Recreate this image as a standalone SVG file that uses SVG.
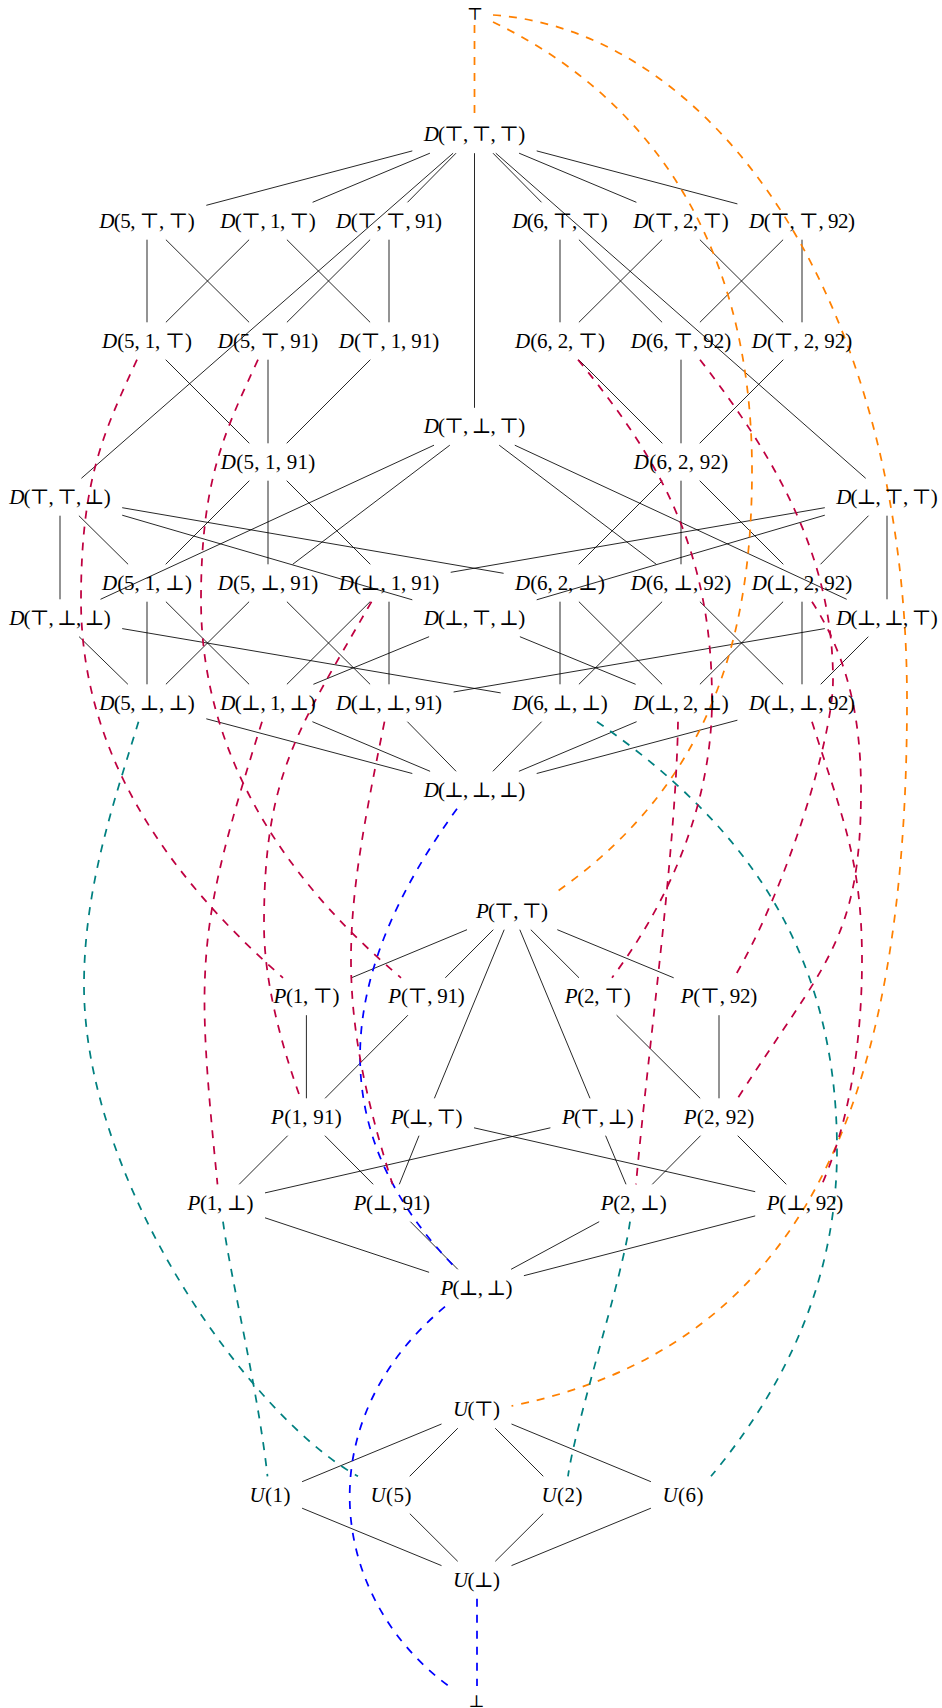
<svg xmlns="http://www.w3.org/2000/svg" width="942" height="1708" viewBox="0 0 942 1708">
<style>
.l{font-family:"Liberation Serif","DejaVu Serif",serif;font-size:21px;text-anchor:middle;fill:#000}
.s{font-family:"DejaVu Serif","Liberation Serif",serif;font-size:17px;text-anchor:middle;fill:#000}
.i{font-style:italic}
.e line{stroke:#000;stroke-width:0.85;fill:none}
.d path{fill:none;stroke-width:1.75;stroke-dasharray:8 8}
.or{stroke:#FF8000}.bl{stroke:#0000FF}.te{stroke:#008080}.pu{stroke:#BF0040}
</style>
<rect width="942" height="1708" fill="#fff"/>
<g id="connectors">
<g class="e">
<line x1="412.3" y1="150.9" x2="206.3" y2="205.3"/>
<line x1="429.9" y1="153.2" x2="312.6" y2="202.3"/>
<line x1="456" y1="153.2" x2="407.5" y2="202.3"/>
<line x1="453.1" y1="153.2" x2="81.4" y2="478.3"/>
<line x1="474.5" y1="153.2" x2="474.5" y2="407.8"/>
<line x1="493" y1="153.2" x2="541.5" y2="202.3"/>
<line x1="495.8" y1="153.2" x2="865.7" y2="478.3"/>
<line x1="519.1" y1="153.2" x2="636.4" y2="202.3"/>
<line x1="536.7" y1="150.9" x2="737.4" y2="203.9"/>
<line x1="147" y1="239.7" x2="147" y2="322.3"/>
<line x1="165.9" y1="239.7" x2="249.1" y2="322.3"/>
<line x1="249.1" y1="239.7" x2="165.9" y2="322.3"/>
<line x1="286.9" y1="239.7" x2="370.1" y2="322.3"/>
<line x1="370.1" y1="239.7" x2="286.9" y2="322.3"/>
<line x1="389" y1="239.7" x2="389" y2="322.3"/>
<line x1="560" y1="239.7" x2="560" y2="322.3"/>
<line x1="578.9" y1="239.7" x2="662.1" y2="322.3"/>
<line x1="662.1" y1="239.7" x2="578.9" y2="322.3"/>
<line x1="699.9" y1="239.7" x2="783.1" y2="322.3"/>
<line x1="783.1" y1="239.7" x2="699.9" y2="322.3"/>
<line x1="802" y1="239.7" x2="802" y2="322.3"/>
<line x1="165.7" y1="359.7" x2="249.3" y2="443.3"/>
<line x1="268" y1="359.7" x2="268" y2="443.3"/>
<line x1="370.3" y1="359.7" x2="286.7" y2="443.3"/>
<line x1="578.7" y1="359.7" x2="662.3" y2="443.3"/>
<line x1="681" y1="359.7" x2="681" y2="443.3"/>
<line x1="783.3" y1="359.7" x2="699.7" y2="443.3"/>
<line x1="434" y1="445.2" x2="100.5" y2="599.3"/>
<line x1="449.8" y1="445.2" x2="292.7" y2="564.3"/>
<line x1="499.2" y1="445.2" x2="656.3" y2="564.3"/>
<line x1="514.8" y1="445.2" x2="846.7" y2="599.3"/>
<line x1="249.3" y1="480.7" x2="165.7" y2="564.3"/>
<line x1="268" y1="480.7" x2="268" y2="564.3"/>
<line x1="286.7" y1="480.7" x2="370.3" y2="564.3"/>
<line x1="662.3" y1="480.7" x2="578.7" y2="564.3"/>
<line x1="681" y1="480.7" x2="681" y2="564.3"/>
<line x1="699.7" y1="480.7" x2="783.3" y2="564.3"/>
<line x1="60" y1="515.7" x2="60" y2="599.3"/>
<line x1="78.9" y1="515.7" x2="128.1" y2="564.3"/>
<line x1="122.2" y1="507.7" x2="503.6" y2="573.3"/>
<line x1="122.2" y1="515.2" x2="412.3" y2="599.8"/>
<line x1="824.8" y1="507.7" x2="450.7" y2="572.3"/>
<line x1="824.8" y1="515.2" x2="536.7" y2="599.8"/>
<line x1="868.5" y1="515.7" x2="820.5" y2="564.3"/>
<line x1="887" y1="515.7" x2="887" y2="599.3"/>
<line x1="147" y1="601.7" x2="147" y2="684.3"/>
<line x1="165.9" y1="601.7" x2="249.1" y2="684.3"/>
<line x1="249.1" y1="601.7" x2="165.9" y2="684.3"/>
<line x1="286.9" y1="601.7" x2="370.1" y2="684.3"/>
<line x1="370.1" y1="601.7" x2="286.9" y2="684.3"/>
<line x1="389" y1="601.7" x2="389" y2="684.3"/>
<line x1="560" y1="601.7" x2="560" y2="684.3"/>
<line x1="578.9" y1="601.7" x2="662.1" y2="684.3"/>
<line x1="662.1" y1="601.7" x2="578.9" y2="684.3"/>
<line x1="699.9" y1="601.7" x2="783.1" y2="684.3"/>
<line x1="783.1" y1="601.7" x2="699.9" y2="684.3"/>
<line x1="802" y1="601.7" x2="802" y2="684.3"/>
<line x1="79.1" y1="636.7" x2="127.9" y2="684.3"/>
<line x1="122.2" y1="628.6" x2="500.7" y2="692.9"/>
<line x1="429.1" y1="636.7" x2="313.4" y2="684.3"/>
<line x1="519.9" y1="636.7" x2="635.6" y2="684.3"/>
<line x1="824.8" y1="628.6" x2="453.6" y2="692"/>
<line x1="868.3" y1="636.7" x2="820.7" y2="684.3"/>
<line x1="206.3" y1="718.8" x2="412.3" y2="773.5"/>
<line x1="312.4" y1="721.7" x2="430.1" y2="771.3"/>
<line x1="407.4" y1="721.7" x2="456.1" y2="771.3"/>
<line x1="541.6" y1="721.7" x2="492.9" y2="771.3"/>
<line x1="636.6" y1="721.7" x2="518.9" y2="771.3"/>
<line x1="737.4" y1="720.2" x2="536.7" y2="773.5"/>
<line x1="467" y1="929.7" x2="350.9" y2="978"/>
<line x1="493.3" y1="929.7" x2="445.3" y2="977.8"/>
<line x1="504.2" y1="929.7" x2="434.4" y2="1098.3"/>
<line x1="519.8" y1="929.7" x2="590" y2="1098.3"/>
<line x1="530.8" y1="929.7" x2="579" y2="977.8"/>
<line x1="557.3" y1="929.7" x2="673.7" y2="977.8"/>
<line x1="306.4" y1="1015.2" x2="306.4" y2="1098.3"/>
<line x1="407.9" y1="1015.2" x2="325.1" y2="1098.3"/>
<line x1="616.6" y1="1015.2" x2="700.2" y2="1098.3"/>
<line x1="719" y1="1015.2" x2="719" y2="1098.3"/>
<line x1="287.7" y1="1135.7" x2="239.2" y2="1184.3"/>
<line x1="324.9" y1="1135.7" x2="373.2" y2="1184.3"/>
<line x1="419" y1="1135.7" x2="399.3" y2="1184.3"/>
<line x1="474" y1="1127.8" x2="755.2" y2="1191.7"/>
<line x1="550.4" y1="1127.8" x2="265" y2="1192.9"/>
<line x1="605.6" y1="1135.7" x2="626" y2="1184.3"/>
<line x1="700.5" y1="1135.7" x2="652.3" y2="1184.3"/>
<line x1="737.7" y1="1135.7" x2="786.3" y2="1184.3"/>
<line x1="265" y1="1217.8" x2="429.1" y2="1272.3"/>
<line x1="410.4" y1="1221.7" x2="457.8" y2="1269.3"/>
<line x1="599.2" y1="1221.7" x2="511.1" y2="1269.3"/>
<line x1="755.2" y1="1215.9" x2="523.9" y2="1275.7"/>
<line x1="441.5" y1="1424" x2="302.1" y2="1481.7"/>
<line x1="457.8" y1="1428.2" x2="409.7" y2="1476.3"/>
<line x1="495.2" y1="1428.2" x2="543.3" y2="1476.3"/>
<line x1="511.5" y1="1424" x2="650.9" y2="1481.7"/>
<line x1="302.1" y1="1508.2" x2="441.5" y2="1565.6"/>
<line x1="409.8" y1="1513.7" x2="457.7" y2="1561.3"/>
<line x1="543.2" y1="1513.7" x2="495.3" y2="1561.3"/>
<line x1="650.9" y1="1508.2" x2="511.5" y2="1565.6"/>
</g>
<g class="d">
<path class="or" d="M474.5,25 L474.5,115.8"/>
<path class="or" d="M493,22 C628,86.5 752,220 752,470 C752,620 720,778 556,892.3"/>
<path class="or" d="M493,15 C713,30.4 907,300 907,700 C907,1100 806,1346 511.5,1406"/>
<path class="bl" d="M457,808.7 C339,971 317,1127 457,1269.3"/>
<path class="bl" d="M445,1306.7 C306.4,1422.2 328.5,1598.5 450,1687"/>
<path class="bl" d="M477,1598.7 L477,1686"/>
<path class="te" d="M138.5,721.7 C115.3,798.5 84,885 84,985 C84,1185 252.4,1418.4 358,1476.3"/>
<path class="te" d="M597,721.7 C744.6,824.3 837,950 837,1150 C837,1250 807,1360.5 711,1476.3"/>
<path class="te" d="M223,1221.7 C231,1280 258,1390 267.5,1476.3"/>
<path class="te" d="M630,1221.7 C622,1280 576,1420 568,1476.3"/>
<path class="pu" d="M137,359.7 C103.4,432.5 81,480 81,600 C81,750 163,872.2 283,977.8"/>
<path class="pu" d="M258,359.7 C224.4,432.5 201,480 201,600 C201,750 279.4,875.4 401,977.8"/>
<path class="pu" d="M371.5,601.7 C296.5,732.2 264,775 264,925 C264,985 283.5,1051.3 300.5,1098.3"/>
<path class="pu" d="M262,721.7 C196,930.7 195.5,964.3 217.5,1184.3"/>
<path class="pu" d="M384.5,721.7 C344.5,917.7 332.5,994.3 392.5,1184.3"/>
<path class="pu" d="M578,359.7 C659.9,459.8 712,550 712,700 C712,800 672,897.8 612,977.8"/>
<path class="pu" d="M700,359.7 C779.3,462.4 833,560 833,680 C833,740 785,891.8 734,977.8"/>
<path class="pu" d="M812,601.7 C844.4,652.1 861,710 861,790 C861,940 824.4,963.4 738,1097.8"/>
<path class="pu" d="M812,721.7 C842,816.7 862,860 862,960 C862,1040 850,1120 822,1184.3"/>
<path class="pu" d="M678,721.7 C676,850 648,1050 636,1184.3"/>
</g>
</g>
<g id="top"><text class="s" x="475" y="20">⊤</text></g>
<g id="D_T_T_T"><text class="l" x="474.5" y="141" textLength="101.4" lengthAdjust="spacing"><tspan class="i">D</tspan>(⊤, ⊤, ⊤)</text></g>
<g id="D_5_T_T"><text class="l" x="147" y="227.5" textLength="95.6" lengthAdjust="spacing"><tspan class="i">D</tspan>(5, ⊤, ⊤)</text></g>
<g id="D_T_1_T"><text class="l" x="268" y="227.5" textLength="95.6" lengthAdjust="spacing"><tspan class="i">D</tspan>(⊤, 1, ⊤)</text></g>
<g id="D_T_T_91"><text class="l" x="389" y="227.5" textLength="106.1" lengthAdjust="spacing"><tspan class="i">D</tspan>(⊤, ⊤, 91)</text></g>
<g id="D_6_T_T"><text class="l" x="560" y="227.5" textLength="95.6" lengthAdjust="spacing"><tspan class="i">D</tspan>(6, ⊤, ⊤)</text></g>
<g id="D_T_2_T"><text class="l" x="681" y="227.5" textLength="95.6" lengthAdjust="spacing"><tspan class="i">D</tspan>(⊤, 2, ⊤)</text></g>
<g id="D_T_T_92"><text class="l" x="802" y="227.5" textLength="106.1" lengthAdjust="spacing"><tspan class="i">D</tspan>(⊤, ⊤, 92)</text></g>
<g id="D_5_1_T"><text class="l" x="147" y="347.5" textLength="89.8" lengthAdjust="spacing"><tspan class="i">D</tspan>(5, 1, ⊤)</text></g>
<g id="D_5_T_91"><text class="l" x="268" y="347.5" textLength="100.3" lengthAdjust="spacing"><tspan class="i">D</tspan>(5, ⊤, 91)</text></g>
<g id="D_T_1_91"><text class="l" x="389" y="347.5" textLength="100.3" lengthAdjust="spacing"><tspan class="i">D</tspan>(⊤, 1, 91)</text></g>
<g id="D_6_2_T"><text class="l" x="560" y="347.5" textLength="89.8" lengthAdjust="spacing"><tspan class="i">D</tspan>(6, 2, ⊤)</text></g>
<g id="D_6_T_92"><text class="l" x="681" y="347.5" textLength="100.3" lengthAdjust="spacing"><tspan class="i">D</tspan>(6, ⊤, 92)</text></g>
<g id="D_T_2_92"><text class="l" x="802" y="347.5" textLength="100.3" lengthAdjust="spacing"><tspan class="i">D</tspan>(⊤, 2, 92)</text></g>
<g id="D_T_B_T"><text class="l" x="474.5" y="433" textLength="101.4" lengthAdjust="spacing"><tspan class="i">D</tspan>(⊤, ⊥, ⊤)</text></g>
<g id="D_5_1_91"><text class="l" x="268" y="468.5" textLength="94.4" lengthAdjust="spacing"><tspan class="i">D</tspan>(5, 1, 91)</text></g>
<g id="D_6_2_92"><text class="l" x="681" y="468.5" textLength="94.4" lengthAdjust="spacing"><tspan class="i">D</tspan>(6, 2, 92)</text></g>
<g id="D_T_T_B"><text class="l" x="60" y="503.5" textLength="101.4" lengthAdjust="spacing"><tspan class="i">D</tspan>(⊤, ⊤, ⊥)</text></g>
<g id="D_B_T_T"><text class="l" x="887" y="503.5" textLength="101.4" lengthAdjust="spacing"><tspan class="i">D</tspan>(⊥, ⊤, ⊤)</text></g>
<g id="D_5_1_B"><text class="l" x="147" y="589.5" textLength="89.8" lengthAdjust="spacing"><tspan class="i">D</tspan>(5, 1, ⊥)</text></g>
<g id="D_5_B_91"><text class="l" x="268" y="589.5" textLength="100.3" lengthAdjust="spacing"><tspan class="i">D</tspan>(5, ⊥, 91)</text></g>
<g id="D_B_1_91"><text class="l" x="389" y="589.5" textLength="100.3" lengthAdjust="spacing"><tspan class="i">D</tspan>(⊥, 1, 91)</text></g>
<g id="D_6_2_B"><text class="l" x="560" y="589.5" textLength="89.8" lengthAdjust="spacing"><tspan class="i">D</tspan>(6, 2, ⊥)</text></g>
<g id="D_6_B_92"><text class="l" x="681" y="589.5" textLength="100.3" lengthAdjust="spacing"><tspan class="i">D</tspan>(6, ⊥, 92)</text></g>
<g id="D_B_2_92"><text class="l" x="802" y="589.5" textLength="100.3" lengthAdjust="spacing"><tspan class="i">D</tspan>(⊥, 2, 92)</text></g>
<g id="D_T_B_B"><text class="l" x="60" y="624.5" textLength="101.4" lengthAdjust="spacing"><tspan class="i">D</tspan>(⊤, ⊥, ⊥)</text></g>
<g id="D_B_T_B"><text class="l" x="474.5" y="624.5" textLength="101.4" lengthAdjust="spacing"><tspan class="i">D</tspan>(⊥, ⊤, ⊥)</text></g>
<g id="D_B_B_T"><text class="l" x="887" y="624.5" textLength="101.4" lengthAdjust="spacing"><tspan class="i">D</tspan>(⊥, ⊥, ⊤)</text></g>
<g id="D_5_B_B"><text class="l" x="147" y="709.5" textLength="95.6" lengthAdjust="spacing"><tspan class="i">D</tspan>(5, ⊥, ⊥)</text></g>
<g id="D_B_1_B"><text class="l" x="268" y="709.5" textLength="95.6" lengthAdjust="spacing"><tspan class="i">D</tspan>(⊥, 1, ⊥)</text></g>
<g id="D_B_B_91"><text class="l" x="389" y="709.5" textLength="106.1" lengthAdjust="spacing"><tspan class="i">D</tspan>(⊥, ⊥, 91)</text></g>
<g id="D_6_B_B"><text class="l" x="560" y="709.5" textLength="95.6" lengthAdjust="spacing"><tspan class="i">D</tspan>(6, ⊥, ⊥)</text></g>
<g id="D_B_2_B"><text class="l" x="681" y="709.5" textLength="95.6" lengthAdjust="spacing"><tspan class="i">D</tspan>(⊥, 2, ⊥)</text></g>
<g id="D_B_B_92"><text class="l" x="802" y="709.5" textLength="106.1" lengthAdjust="spacing"><tspan class="i">D</tspan>(⊥, ⊥, 92)</text></g>
<g id="D_B_B_B"><text class="l" x="474.5" y="796.5" textLength="101.4" lengthAdjust="spacing"><tspan class="i">D</tspan>(⊥, ⊥, ⊥)</text></g>
<g id="P_T_T"><text class="l" x="512" y="917.5" textLength="71.8" lengthAdjust="spacing"><tspan class="i">P</tspan>(⊤, ⊤)</text></g>
<g id="P_1_T"><text class="l" x="306.4" y="1003" textLength="66" lengthAdjust="spacing"><tspan class="i">P</tspan>(1, ⊤)</text></g>
<g id="P_T_91"><text class="l" x="426.6" y="1003" textLength="76.5" lengthAdjust="spacing"><tspan class="i">P</tspan>(⊤, 91)</text></g>
<g id="P_2_T"><text class="l" x="597.8" y="1003" textLength="66" lengthAdjust="spacing"><tspan class="i">P</tspan>(2, ⊤)</text></g>
<g id="P_T_92"><text class="l" x="719" y="1003" textLength="76.5" lengthAdjust="spacing"><tspan class="i">P</tspan>(⊤, 92)</text></g>
<g id="P_1_91"><text class="l" x="306.4" y="1123.5" textLength="70.7" lengthAdjust="spacing"><tspan class="i">P</tspan>(1, 91)</text></g>
<g id="P_B_T"><text class="l" x="426.6" y="1123.5" textLength="71.8" lengthAdjust="spacing"><tspan class="i">P</tspan>(⊥, ⊤)</text></g>
<g id="P_T_B"><text class="l" x="597.8" y="1123.5" textLength="71.8" lengthAdjust="spacing"><tspan class="i">P</tspan>(⊤, ⊥)</text></g>
<g id="P_2_92"><text class="l" x="719" y="1123.5" textLength="70.7" lengthAdjust="spacing"><tspan class="i">P</tspan>(2, 92)</text></g>
<g id="P_1_B"><text class="l" x="220.5" y="1209.5" textLength="66" lengthAdjust="spacing"><tspan class="i">P</tspan>(1, ⊥)</text></g>
<g id="P_B_91"><text class="l" x="391.7" y="1209.5" textLength="76.5" lengthAdjust="spacing"><tspan class="i">P</tspan>(⊥, 91)</text></g>
<g id="P_2_B"><text class="l" x="633.8" y="1209.5" textLength="66" lengthAdjust="spacing"><tspan class="i">P</tspan>(2, ⊥)</text></g>
<g id="P_B_92"><text class="l" x="805" y="1209.5" textLength="76.5" lengthAdjust="spacing"><tspan class="i">P</tspan>(⊥, 92)</text></g>
<g id="P_B_B"><text class="l" x="476.5" y="1294.5" textLength="71.8" lengthAdjust="spacing"><tspan class="i">P</tspan>(⊥, ⊥)</text></g>
<g id="U_T"><text class="l" x="476.5" y="1416" textLength="47" lengthAdjust="spacing"><tspan class="i">U</tspan>(⊤)</text></g>
<g id="U_1"><text class="l" x="270" y="1501.5" textLength="41.2" lengthAdjust="spacing"><tspan class="i">U</tspan>(1)</text></g>
<g id="U_5"><text class="l" x="391" y="1501.5" textLength="41.2" lengthAdjust="spacing"><tspan class="i">U</tspan>(5)</text></g>
<g id="U_2"><text class="l" x="562" y="1501.5" textLength="41.2" lengthAdjust="spacing"><tspan class="i">U</tspan>(2)</text></g>
<g id="U_6"><text class="l" x="683" y="1501.5" textLength="41.2" lengthAdjust="spacing"><tspan class="i">U</tspan>(6)</text></g>
<g id="U_B"><text class="l" x="476.5" y="1586.5" textLength="47" lengthAdjust="spacing"><tspan class="i">U</tspan>(⊥)</text></g>
<g id="bottom"><text class="s" x="476.5" y="1707">⊥</text></g>
</svg>
